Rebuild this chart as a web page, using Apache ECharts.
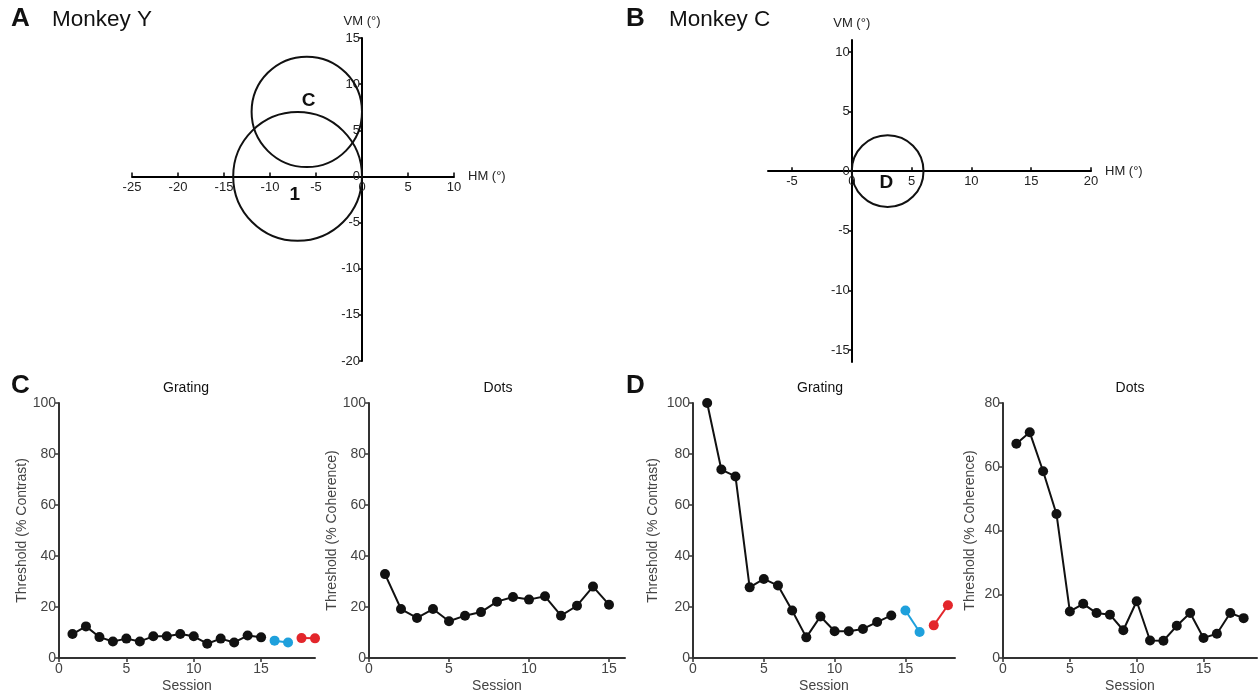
<!DOCTYPE html>
<html>
<head>
<meta charset="utf-8">
<script src="https://cdn.jsdelivr.net/npm/echarts@6/dist/echarts.min.js"></script>
<style>html,body{margin:0;background:#fff}#main{width:1259px;height:700px}</style>
</head>
<body>
<div id="main"></div>
<script>
// receptive field circles: [centre x, centre y, radius] in degrees
var fieldsA = [[-7, 0, 7], [-6, 7, 6]];
var fieldNamesA = ['1', 'C'];
var fieldNamePosA = [[-7.3, -2], [-5.8, 8.2]];
var fieldsB = [[3, 0, 3]];
var fieldNamesB = ['D'];
var fieldNamePosB = [[2.9, -1]];

// thresholds per session (monkey Y)
var yGrating = [9.4, 12.4, 8.2, 6.5, 7.6, 6.5, 8.5, 8.5, 9.4, 8.5, 5.6, 7.6, 6.1, 8.8, 8.1];
var yGratingBlue = [6.8, 6.1];
var yGratingRed = [7.8, 7.7];
var yDots = [32.9, 19.2, 15.7, 19.2, 14.4, 16.6, 18.0, 22.1, 23.9, 22.9, 24.2, 16.6, 20.5, 28.0, 20.9];

// thresholds per session (monkey C)
var cGrating = [100, 73.9, 71.2, 27.7, 31.0, 28.4, 18.6, 8.1, 16.3, 10.5, 10.5, 11.4, 14.1, 16.7];
var cGratingBlue = [18.6, 10.2];
var cGratingRed = [12.8, 20.7];
var cDots = [67.2, 70.8, 58.6, 45.2, 14.6, 17.0, 14.1, 13.6, 8.7, 17.8, 5.5, 5.4, 10.1, 14.1, 6.3, 7.6, 14.1, 12.5];

var FONT = 'Liberation Sans, Arial, sans-serif';
var BLUE = '#1ea0dc';
var RED = '#e3262b';

function pairs(vals, start) {
  return vals.map(function (v, i) { return [start + i, v]; });
}

var myChart = echarts.init(document.getElementById('main'));

var grids = [
  {left: 132, top: 38, width: 322, height: 323},
  {left: 768, top: 40, width: 323, height: 322},
  {left: 59, top: 403, width: 256, height: 255},
  {left: 369, top: 403, width: 256, height: 255},
  {left: 693, top: 403, width: 262, height: 255},
  {left: 1003, top: 403, width: 254, height: 255}
];

// axes of the field maps: the axes cross at the origin
function mapX(grid, min, max, ymin, ymax, ticks) {
  var g = grids[grid];
  return {
    gridIndex: grid, type: 'value', min: min, max: max,
    offset: -g.height * (0 - ymin) / (ymax - ymin),
    name: 'HM (°)', nameLocation: 'end', nameGap: 14,
    nameTextStyle: {fontFamily: FONT, fontSize: 13, color: '#222', verticalAlign: 'middle'},
    axisLine: {onZero: false, lineStyle: {color: '#000', width: 2}},
    axisTick: {inside: true, length: 4, customValues: ticks, lineStyle: {color: '#000', width: 1.5}},
    axisLabel: {fontFamily: FONT, fontSize: 13, color: '#222', margin: 4, customValues: ticks},
    splitLine: {show: false}
  };
}
function mapY(grid, min, max, xmin, xmax, ticks) {
  var g = grids[grid];
  return {
    gridIndex: grid, type: 'value', min: min, max: max,
    offset: -g.width * (0 - xmin) / (xmax - xmin),
    name: 'VM (°)', nameLocation: 'end', nameGap: 10,
    nameTextStyle: {fontFamily: FONT, fontSize: 13, color: '#222'},
    axisLine: {onZero: false, lineStyle: {color: '#000', width: 2}},
    axisTick: {length: 3, customValues: ticks, lineStyle: {color: '#000', width: 1.5}},
    axisLabel: {fontFamily: FONT, fontSize: 13, color: '#222', margin: 2, customValues: ticks},
    splitLine: {show: false}
  };
}
// axes of the threshold plots
function sessX(grid, max) {
  return {
    gridIndex: grid, type: 'value', min: 0, max: max, interval: 5,
    name: 'Session', nameLocation: 'middle', nameGap: 21,
    nameTextStyle: {fontFamily: FONT, fontSize: 14, color: '#444'},
    axisLine: {lineStyle: {color: '#333', width: 2}},
    axisTick: {length: 4, lineStyle: {color: '#333', width: 1.5}},
    axisLabel: {fontFamily: FONT, fontSize: 14, color: '#444', margin: 4, showMaxLabel: max % 5 === 0},
    splitLine: {show: false}
  };
}
function threshY(grid, max, name, gap) {
  return {
    gridIndex: grid, type: 'value', min: 0, max: max, interval: 20,
    name: name, nameLocation: 'middle', nameGap: gap,
    nameTextStyle: {fontFamily: FONT, fontSize: 14, color: '#444'},
    axisLine: {lineStyle: {color: '#333', width: 2}},
    axisTick: {length: 4, lineStyle: {color: '#333', width: 1.5}},
    axisLabel: {fontFamily: FONT, fontSize: 14, color: '#444', margin: 3},
    splitLine: {show: false}
  };
}

function circles(grid, fields) {
  return {
    type: 'custom', xAxisIndex: grid, yAxisIndex: grid, clip: false, silent: true,
    data: fields,
    renderItem: function (params, api) {
      var c = api.coord([api.value(0), api.value(1)]);
      var s = api.size([api.value(2), api.value(2)]);
      return {type: 'circle', shape: {cx: c[0], cy: c[1], r: s[0]},
        style: {fill: 'none', stroke: '#111', lineWidth: 2}};
    }
  };
}
function fieldNames(grid, pos, names) {
  return {
    type: 'custom', xAxisIndex: grid, yAxisIndex: grid, clip: false, silent: true,
    data: pos,
    renderItem: function (params, api) {
      var c = api.coord([api.value(0), api.value(1)]);
      return {type: 'text', x: c[0], y: c[1],
        style: {text: names[params.dataIndex], font: 'bold 19px ' + FONT, fill: '#111',
          align: 'center', verticalAlign: 'middle'}};
    }
  };
}
function line(grid, data, color) {
  return {
    type: 'line', xAxisIndex: grid, yAxisIndex: grid, data: data,
    symbol: 'circle', symbolSize: 10, showSymbol: true, silent: true,
    lineStyle: {color: color, width: 2}, itemStyle: {color: color}
  };
}

function txt(x, y, s, font, align) {
  return {type: 'text', x: x, y: y,
    style: {text: s, font: font, fill: '#111', align: align || 'left', verticalAlign: 'middle'}};
}

myChart.setOption({
  animation: false,
  backgroundColor: '#fff',
  grid: grids,
  xAxis: [
    mapX(0, -25, 10, -20, 15, [-25, -20, -15, -10, -5, 0, 5, 10]),
    mapX(1, -7, 20, -16, 11, [-5, 0, 5, 10, 15, 20]),
    sessX(2, 19),
    sessX(3, 16),
    sessX(4, 18.5),
    sessX(5, 19)
  ],
  yAxis: [
    mapY(0, -20, 15, -25, 10, [-20, -15, -10, -5, 0, 5, 10, 15]),
    mapY(1, -16, 11, -7, 20, [-15, -10, -5, 0, 5, 10]),
    threshY(2, 100, 'Threshold (% Contrast)', 30),
    threshY(3, 100, 'Threshold (% Coherence)', 30),
    threshY(4, 100, 'Threshold (% Contrast)', 33),
    threshY(5, 80, 'Threshold (% Coherence)', 26)
  ],
  graphic: [
    txt(11, 19, 'A', 'bold 26px ' + FONT),
    txt(52, 20, 'Monkey Y', '22.5px ' + FONT),
    txt(626, 19, 'B', 'bold 26px ' + FONT),
    txt(669, 20, 'Monkey C', '22.5px ' + FONT),
    txt(11, 386, 'C', 'bold 26px ' + FONT),
    txt(626, 386, 'D', 'bold 26px ' + FONT),
    txt(186, 388, 'Grating', '14px ' + FONT, 'center'),
    txt(498, 388, 'Dots', '14px ' + FONT, 'center'),
    txt(820, 388, 'Grating', '14px ' + FONT, 'center'),
    txt(1130, 388, 'Dots', '14px ' + FONT, 'center')
  ],
  series: [
    circles(0, fieldsA),
    fieldNames(0, fieldNamePosA, fieldNamesA),
    circles(1, fieldsB),
    fieldNames(1, fieldNamePosB, fieldNamesB),
    line(2, pairs(yGrating, 1), '#111'),
    line(2, pairs(yGratingBlue, yGrating.length + 1), BLUE),
    line(2, pairs(yGratingRed, yGrating.length + 3), RED),
    line(3, pairs(yDots, 1), '#111'),
    line(4, pairs(cGrating, 1), '#111'),
    line(4, pairs(cGratingBlue, cGrating.length + 1), BLUE),
    line(4, pairs(cGratingRed, cGrating.length + 3), RED),
    line(5, pairs(cDots, 1), '#111')
  ]
});
</script>
</body>
</html>
